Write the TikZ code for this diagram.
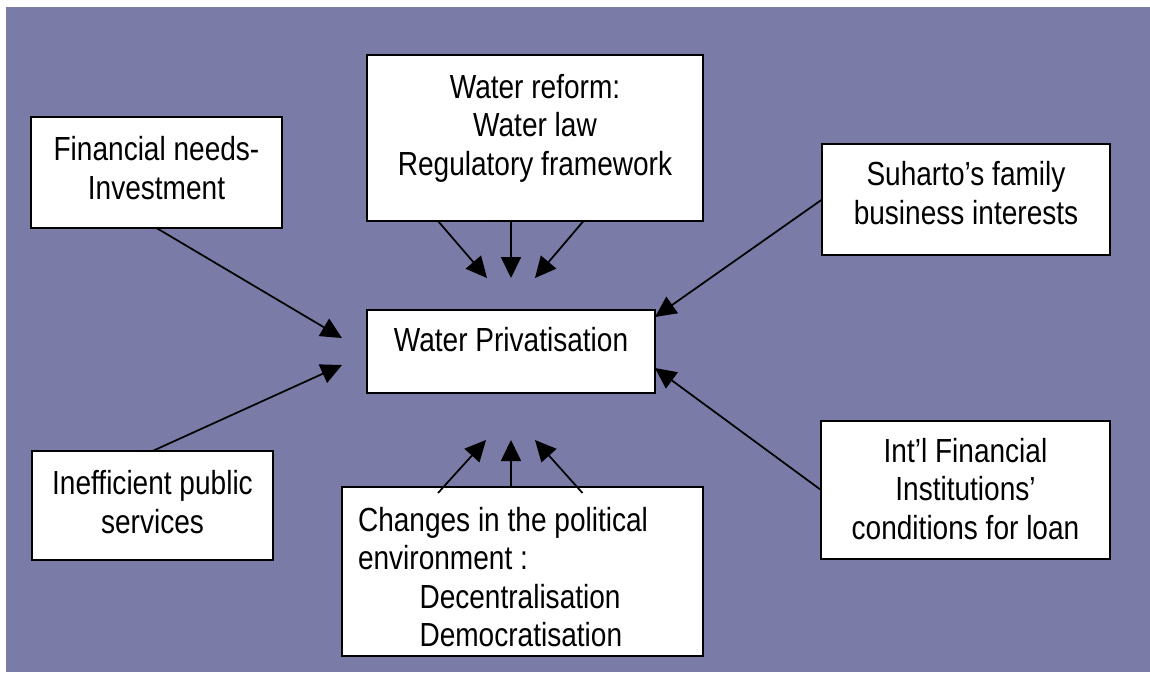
\documentclass[tikz,border=0pt]{standalone}
\usepackage{fontspec}
\setmainfont[FakeStretch=0.84]{Liberation Sans}
\usetikzlibrary{arrows.meta, positioning, calc}
\definecolor{bgpurple}{RGB}{123,123,168}
\tikzset{
  factor/.style={rectangle, draw=black, fill=white, line width=0.04cm,
                 align=center, inner ysep=0pt, outer sep=0pt,
                 font=\fontsize{19pt}{22pt}\selectfont},
  arrow/.style={-{Triangle[length=0.42cm, width=0.4cm]}, line width=0.035cm},
}

\begin{document}
\begin{tikzpicture}

  % =====================================================
  % BACKGROUND
  % =====================================================

  \useasboundingbox (0,0) rectangle (23,-13.44);
  \fill[bgpurple] (0.12,-0.14) rectangle (23,-13.44);

  % =====================================================
  % CENTRE
  % =====================================================

  \node[factor, minimum width=5.76cm, text height=0.82cm, text depth=0.84cm]
    (priv) at (10.22,-7.03) {Water Privatisation};

  % =====================================================
  % DRIVERS
  % =====================================================

  \node[factor, minimum width=5.02cm, text height=1.64cm, text depth=0.58cm]
    (fin) at (3.13,-3.45) {Financial needs-\\Investment};

  \node[factor, minimum width=6.72cm, text height=2.41cm, text depth=0.91cm]
    (reform) at (10.70,-2.76) {Water reform:\\Water law\\Regulatory framework};

  \node[factor, minimum width=5.76cm, text height=1.60cm, text depth=0.62cm]
    (suharto) at (19.32,-3.99) {Suharto’s family\\business interests};

  \node[factor, minimum width=4.82cm, text height=1.64cm, text depth=0.54cm]
    (ineff) at (3.05,-10.11) {Inefficient public\\services};

  \node[factor, align=flush left, text width=6.58cm, inner xsep=0.32cm,
        text height=0.88cm, text depth=2.50cm]
    (changes) at (10.45,-11.43)
    {Changes in the political\\environment :\\
     \hspace*{1.23cm}Decentralisation\\\hspace*{1.23cm}Democratisation};

  \node[factor, minimum width=5.78cm, text height=2.37cm, text depth=0.39cm]
    (ifi) at (19.31,-9.80) {Int’l Financial\\Institutions’\\conditions for loan};

  % =====================================================
  % ARROW ENDS
  % =====================================================

  \coordinate (top) at ($(priv.north)+(0,0.64)$);
  \coordinate (bot) at ($(priv.south)+(0,-0.94)$);
  \coordinate (rfs) at (priv.north |- reform.south);
  \coordinate (chn) at (priv.south |- changes.north);

  % =====================================================
  % SIDE ARROWS
  % =====================================================

  \draw[arrow]
    (fin.south) -- ($(priv.west)+(-0.5,0.27)$);

  \draw[arrow]
    (ineff.north) -- ($(priv.west)+(-0.5,-0.27)$);

  \draw[arrow]
    (suharto.west) -- ($(priv.east)+(0,0.69)$);

  \draw[arrow]
    (ifi.west) -- ($(priv.east)+(0,-0.33)$);

  % =====================================================
  % WATER REFORM
  % =====================================================

  \draw[arrow]
    ($(rfs)+(-1.46,0)$) -- ($(top)+(-0.48,0)$);

  \draw[arrow]
    (rfs) -- (top);

  \draw[arrow]
    ($(rfs)+(1.45,0)$) -- ($(top)+(0.48,0)$);

  % =====================================================
  % POLITICAL CHANGES
  % =====================================================

  \draw[arrow]
    ($(chn)+(-1.46,-0.12)$) -- ($(bot)+(-0.5,0)$);

  \draw[arrow]
    (chn) -- (bot);

  \draw[arrow]
    ($(chn)+(1.43,-0.12)$) -- ($(bot)+(0.48,0)$);

\end{tikzpicture}
\end{document}
